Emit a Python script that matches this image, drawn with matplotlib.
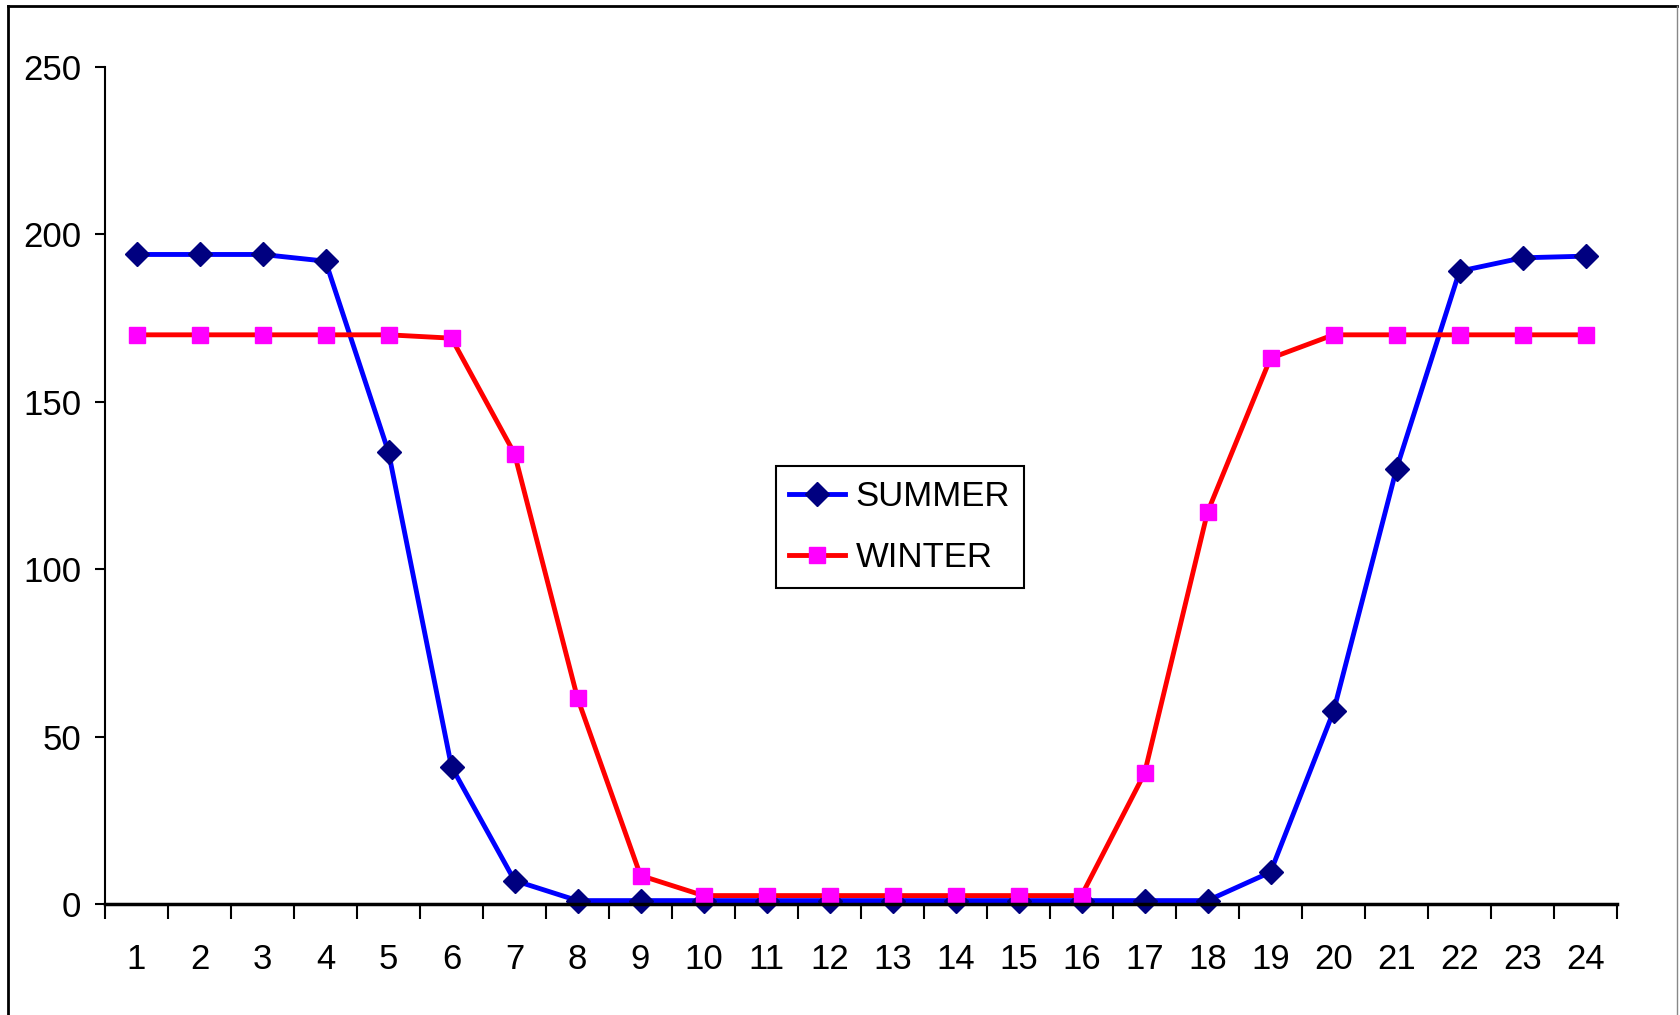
import matplotlib.pyplot as plt
from matplotlib.lines import Line2D
import numpy as np

plt.rcParams['font.family'] = ['Liberation Sans Narrow', 'Liberation Sans', 'DejaVu Sans']

hours = list(range(1, 25))
summer = [194, 194, 194, 192, 135, 41, 7, 1, 1, 1, 1, 1,
          1, 1, 1, 1, 1, 1, 9.5, 57.5, 130, 189, 193, 193.5]
winter = [170, 170, 170, 170, 170, 169, 134.5, 61.5, 8.5, 2.5, 2.5, 2.5,
          2.5, 2.5, 2.5, 2.5, 39, 117, 163, 170, 170, 170, 170, 170]

fig = plt.figure(figsize=(16.8, 10.15), dpi=100)
ax = fig.add_axes([0.0625, 0.1094, 0.9, 0.8246])

ax.plot(hours, summer, color='#0000FF', lw=3.5, marker='D', ms=12,
        mfc='#000080', mec='#000080', label='SUMMER', clip_on=False)
ax.plot(hours, winter, color='#FF0000', lw=3.5, marker='s', ms=11,
        mfc='#FF00FF', mec='#FF00FF', label='WINTER', clip_on=False)

ax.set_xlim(0.5, 24.5)
ax.set_ylim(0, 250)
ax.set_yticks(np.arange(0, 251, 50))

# ticks between categories, labels at category centres
ax.set_xticks(np.arange(0.5, 25, 1))
ax.set_xticklabels([])
ax.set_xticks(hours, minor=True)
ax.set_xticklabels([str(h) for h in hours], minor=True)
ax.tick_params(axis='x', which='major', direction='out', length=11, width=1.5)
ax.tick_params(axis='x', which='minor', length=0, pad=28, labelsize=25)
ax.tick_params(axis='y', direction='out', length=7, width=1.5, pad=10, labelsize=25)

for s in ['top', 'right']:
    ax.spines[s].set_visible(False)
ax.spines['left'].set_linewidth(1.5)
ax.spines['bottom'].set_linewidth(2.5)

leg = ax.legend(loc='upper left', bbox_to_anchor=(0.4435, 0.523), borderaxespad=0,
                fontsize=25, fancybox=False, edgecolor='black', framealpha=1,
                handlelength=1.6, handletextpad=0.3, labelspacing=0.8,
                borderpad=0.4)
leg.get_frame().set_linewidth(1.5)

# outer chart frame
fig.add_artist(Line2D([8/1680, 8/1680], [0, 1 - 6/1015], color='black', lw=2))
fig.add_artist(Line2D([8/1680, 1677/1680], [1 - 6/1015, 1 - 6/1015], color='black', lw=2))
fig.add_artist(Line2D([1677/1680, 1677/1680], [0, 1 - 6/1015], color='#888888', lw=1))

fig.savefig('out.png', dpi=100)
